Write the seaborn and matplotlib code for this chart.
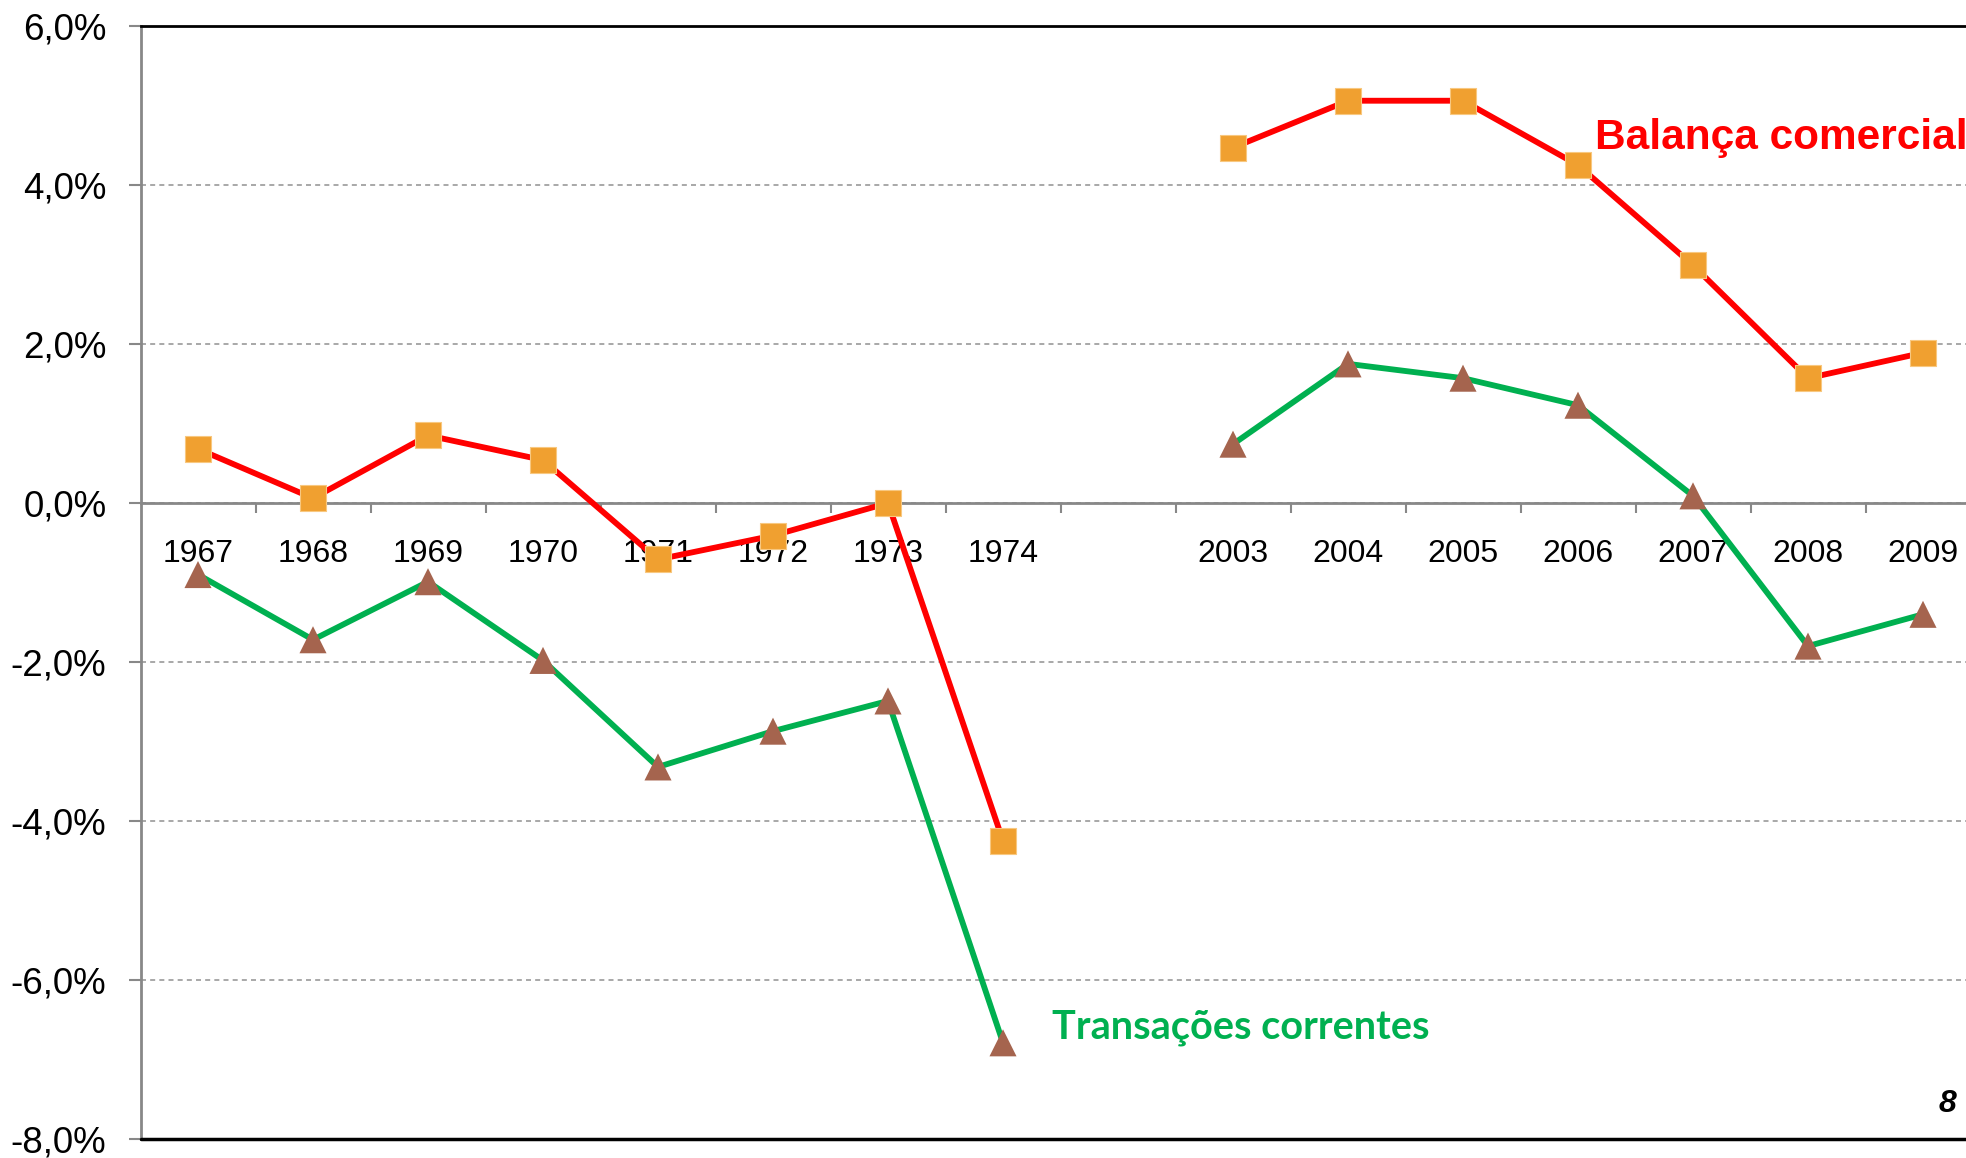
import numpy as np
import pandas as pd
import seaborn as sns
import matplotlib.pyplot as plt
from matplotlib.ticker import FuncFormatter

# Categorias (um espaço vazio entre 1974 e 2003)
anos = ["1967", "1968", "1969", "1970", "1971", "1972", "1973", "1974", "",
        "2003", "2004", "2005", "2006", "2007", "2008", "2009"]
balanca = [0.68, 0.06, 0.85, 0.54, -0.71, -0.41, 0.00, -4.25, np.nan,
           4.47, 5.06, 5.06, 4.25, 2.99, 1.57, 1.89]
transacoes = [-0.90, -1.72, -0.99, -1.98, -3.32, -2.87, -2.49, -6.79, np.nan,
              0.74, 1.75, 1.57, 1.23, 0.09, -1.80, -1.40]
periodo = [1] * 8 + [0] + [2] * 7

df = pd.DataFrame({"pos": range(len(anos)), "ano": anos, "balanca": balanca,
                   "transacoes": transacoes, "periodo": periodo})

sns.set_theme(style="white")
plt.rcParams['font.family'] = ['Liberation Sans', 'DejaVu Sans']

fig = plt.figure(figsize=(19.66, 11.58), dpi=100)
ax = fig.add_axes([140.5 / 1966, 1 - 1139 / 1158, 1840 / 1966, 1113 / 1158])

# linhas (cada período separado para não ligar 1974 a 2003)
sns.lineplot(data=df, x="pos", y="balanca", units="periodo", estimator=None,
             color="#FF0000", lw=4.2, ax=ax, zorder=3)
sns.lineplot(data=df, x="pos", y="transacoes", units="periodo", estimator=None,
             color="#00B050", lw=4.2, ax=ax, zorder=3)
sns.scatterplot(data=df, x="pos", y="balanca", marker="s", s=340, color="#F0A030",
                edgecolor="#F8C880", linewidth=0.8, ax=ax, zorder=4)
sns.scatterplot(data=df, x="pos", y="transacoes", marker="^", s=380, color="#A5644E",
                edgecolor="none", ax=ax, zorder=4)

ax.set_xlim(-0.5, len(anos) - 0.5)
ax.set_ylim(-8, 6)
ax.set_xlabel("")
ax.set_ylabel("")

# eixo y
ax.set_yticks(np.arange(-8, 7, 2))
ax.yaxis.set_major_formatter(FuncFormatter(lambda v, _: f"{v:.1f}".replace(".", ",") + "%"))
ax.tick_params(axis="y", which="major", direction="out", length=8.5, width=1.5,
               color="#888888", pad=16, labelsize=26.5, labelcolor="black", left=True)
ax.yaxis.grid(True, linestyle=(0, (3, 2.5)), color="#999999", lw=1.2, zorder=0)

# eixo x no zero
ax.spines["bottom"].set_position(("data", 0))
ax.spines["bottom"].set_color("#888888")
ax.spines["bottom"].set_linewidth(2)
ax.spines["left"].set_color("#888888")
ax.spines["left"].set_linewidth(2)
ax.spines["top"].set_color("black")
ax.spines["top"].set_linewidth(2)
ax.spines["right"].set_visible(False)
ax.axhline(-8, color="black", lw=2.5, clip_on=False, zorder=5)

ax.set_xticks(df["pos"])
ax.set_xticklabels(anos)
ax.set_xticks(np.arange(0.5, len(anos) - 0.5, 1), minor=True)
ax.tick_params(axis="x", which="major", length=0, pad=26, labelsize=23, labelcolor="black")
ax.tick_params(axis="x", which="minor", direction="out", length=7, width=1.5,
               color="#888888", bottom=True)

# rótulos das séries
ax.text(12.15, 4.45, "Balança comercial", color="#FF0000", fontsize=30.5,
        fontweight="bold", va="baseline", ha="left")
ax.text(7.43, -6.74, "Transações correntes", color="#00B050", fontsize=28.5,
        fontweight="bold", family=["Lato", "DejaVu Sans"], va="baseline", ha="left")
ax.text(15.29, -7.66, "8", color="black", fontsize=23, fontweight="bold",
        fontstyle="italic", va="baseline", ha="right")

fig.savefig("out.png", dpi=100)
